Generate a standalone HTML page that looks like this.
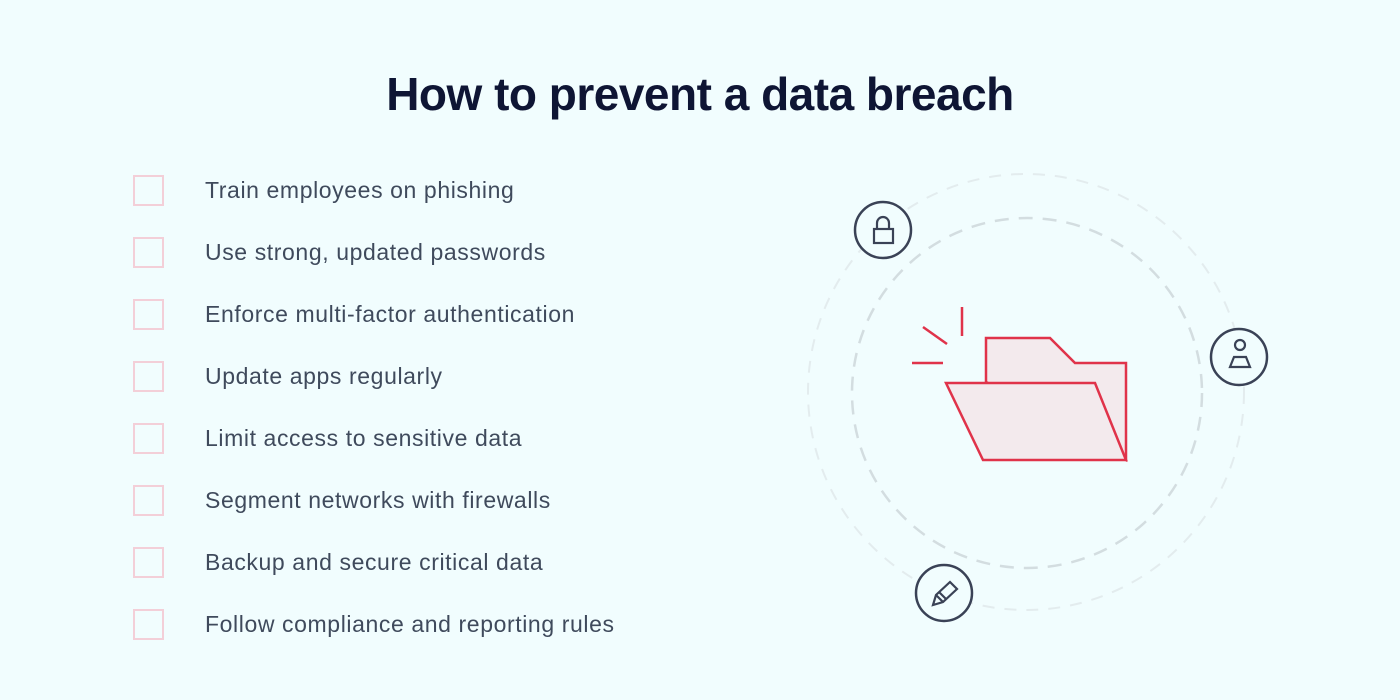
<!DOCTYPE html>
<html><head><style>
body{margin:0;width:1400px;height:700px;background:#f1fdfe;font-family:"Liberation Sans",sans-serif;position:relative;overflow:hidden}
h1{position:absolute;top:67px;left:0;width:1400px;text-align:center;margin:0;font-size:46px;font-weight:bold;color:#0e1534;letter-spacing:-0.5px}
.row{position:absolute;left:133px;height:30px}
.box{position:absolute;left:0;top:0;width:27px;height:27px;border:2px solid #f3cfd8;}
.t{position:absolute;left:72px;top:0px;white-space:nowrap;font-size:23px;color:#3f4a5c;line-height:30px;letter-spacing:0.6px}
</style></head><body>
<h1>How to prevent a data breach</h1>
<div class="row" style="top:175px"><div class="box"></div><div class="t">Train employees on phishing</div></div>
<div class="row" style="top:237px"><div class="box"></div><div class="t">Use strong, updated passwords</div></div>
<div class="row" style="top:299px"><div class="box"></div><div class="t">Enforce multi-factor authentication</div></div>
<div class="row" style="top:361px"><div class="box"></div><div class="t">Update apps regularly</div></div>
<div class="row" style="top:423px"><div class="box"></div><div class="t">Limit access to sensitive data</div></div>
<div class="row" style="top:485px"><div class="box"></div><div class="t">Segment networks with firewalls</div></div>
<div class="row" style="top:547px"><div class="box"></div><div class="t">Backup and secure critical data</div></div>
<div class="row" style="top:609px"><div class="box"></div><div class="t">Follow compliance and reporting rules</div></div>
<svg width="1400" height="700" style="position:absolute;left:0;top:0">
<circle cx="1026" cy="392" r="218" fill="none" stroke="#e3ecee" stroke-width="2" stroke-dasharray="12 10"/>
<circle cx="1027" cy="393" r="175" fill="none" stroke="#d3dde0" stroke-width="2.5" stroke-dasharray="14 10"/>
<g stroke="#e0334a" stroke-width="2.5" fill="#f3eaed">
<polygon points="986,382 986,338 1050,338 1075,363 1126,363 1126,460"/>
<polygon points="946,383 1095,383 1126,460 983,460"/>
<line x1="962" y1="307" x2="962" y2="336"/>
<line x1="923" y1="327" x2="947" y2="344"/>
<line x1="912" y1="363" x2="943" y2="363"/>
</g>
<g fill="#f1fdfe" stroke="#3a4256" stroke-width="2.5">
<circle cx="883" cy="230" r="28"/>
<circle cx="1239" cy="357" r="28"/>
<circle cx="944" cy="593" r="28"/>
</g>
<g fill="none" stroke="#3a4256" stroke-width="2.2">
<rect x="874" y="229" width="19" height="14"/>
<path d="M877 229v-6a6 6 0 0 1 12 0v6"/>
<circle cx="1240" cy="345" r="5"/>
<path d="M1230 367l4-10h12l4 10z"/>
<path d="M933 605l3-10 14-13 7 7-14 13z M936 595l7 7 M939 592l7 7"/>
</g>
</svg>
</body></html>
